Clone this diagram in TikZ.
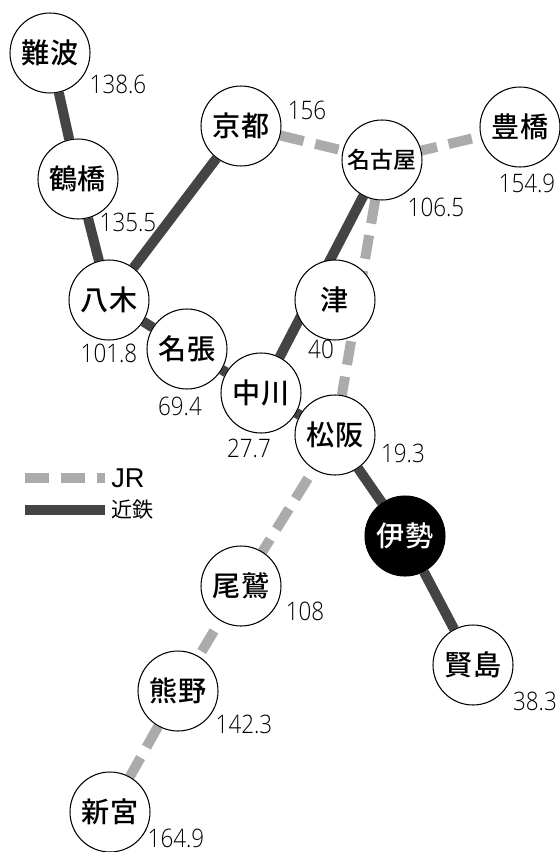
\documentclass[tikz,border=0pt]{standalone}
\usepackage{fontspec}
\setmainfont{Noto Sans CJK JP}[BoldFont={Noto Sans CJK JP Medium}]
\newfontfamily\numfont{Open Sans Light}[FakeStretch=0.88]
\newfontfamily\legendfont{Liberation Sans}
\usetikzlibrary{backgrounds}
\definecolor{jrgray}{HTML}{ABABAB}
\definecolor{kintetsugray}{HTML}{444444}
\tikzset{
	station/.style={circle, draw=black, fill=white, line width=0.6pt, minimum size=1.6cm, inner sep=0pt, font=\fontsize{16pt}{16pt}\selectfont\bfseries},
	dist/.style={inner sep=0pt, text=black, font=\fontsize{14.5pt}{15pt}\numfont},
	jrline/.style={color=jrgray, line width=5.7pt, dash pattern=on 13.6pt off 6.8pt},
	kintetsuline/.style={color=kintetsugray, line width=5.7pt}
}

\begin{document}
\begin{tikzpicture}[x=0.02cm, y=-0.02cm]
	\useasboundingbox (0,0) rectangle (560,852);
	% Stations
	\foreach \stname/\x/\y/\sttext in {nanba/50/53/難波, tsuru/78/179/鶴橋, yagi/109/300/八木, nabari/187/349/名張, nakagawa/261/393/中川, kyoto/241/126/京都, toyo/520/127/豊橋, tsu/335/300/津, matsu/335/435/松阪, owase/241/586/尾鷲, kumano/178/691/熊野, shingu/110/812/新宮, kashiko/473/665/賢島} {
		\node[station] (\stname) at (\x,\y) {\sttext};
	}
	\node[station, font=\fontsize{13pt}{14pt}\selectfont\bfseries] (nagoya) at (382,160) {名古屋};
	\node[station, fill=black, text=white] (ise) at (405,536) {伊勢};
	% Distances
	\foreach \dname/\x/\y/\dtext in {dnanba/118/84/138.6, dtsuru/128/222/135.5, dkyoto/307/110/156, dtoyo/527/183/154.9, dnagoya/436/207/106.5, dyagi/109/353/101.8, dnabari/180/406/69.4, dtsu/321/349/40, dnakagawa/249/448/27.7, dmatsu/403/453/19.3, dowase/305/611/108, dkumano/244/724/142.3, dkashiko/535/701/38.3, dshingu/176/838/164.9} {
		\node[dist] (\dname) at (\x,\y) {\dtext};
	}
	% Lines
	\begin{scope}[on background layer]
		\foreach \a/\b in {nanba/tsuru, tsuru/yagi, yagi/kyoto, yagi/nabari, nabari/nakagawa, nagoya/nakagawa, nakagawa/matsu, matsu/ise, ise/kashiko} {
			\draw[kintetsuline] (\a) -- (\b);
		}
		\foreach \a/\b in {kyoto/nagoya, nagoya/matsu, kumano/shingu} {
			\draw[jrline] (\a) -- (\b);
		}
		\draw[jrline, dash phase=4.5pt] (nagoya) -- (toyo);
		\draw[jrline, dash phase=14.4pt] (matsu) -- (owase);
		\draw[jrline, dash phase=13.6pt] (owase) -- (kumano);
	\end{scope}
	% Legend
	\coordinate (jrstart) at (25,478);
	\coordinate (jrend) at (105,478);
	\coordinate (kinstart) at (25,510);
	\coordinate (kinend) at (105,510);
	\draw[jrline] (jrstart) -- (jrend);
	\draw[kintetsuline] (kinstart) -- (kinend);
	\node[anchor=west, inner sep=0pt, font=\fontsize{15.5pt}{16pt}\legendfont] (jrlabel) at (111,478) {JR};
	\node[anchor=west, inner sep=0pt, font=\fontsize{12pt}{12pt}\selectfont] (kinlabel) at (111,510) {近鉄};
\end{tikzpicture}
\end{document}
